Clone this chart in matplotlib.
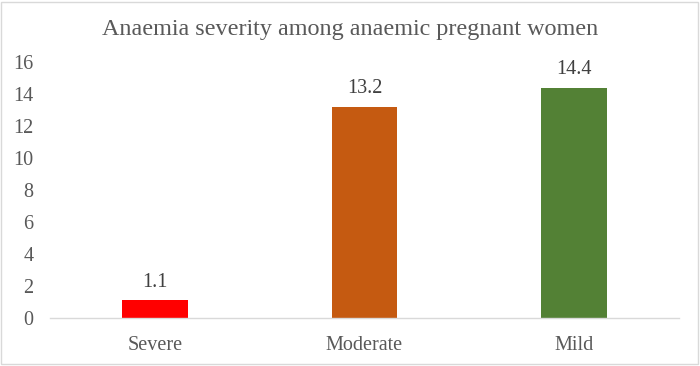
import matplotlib
matplotlib.use("Agg")
import matplotlib.pyplot as plt
from matplotlib.patches import Rectangle

categories = ["Severe", "Moderate", "Mild"]
values = [1.1, 13.2, 14.4]
colors = ["#FF0000", "#C55A11", "#538135"]
yticks = [0, 2, 4, 6, 8, 10, 12, 14, 16]
title = "Anaemia severity among anaemic pregnant women"

plt.rcParams['font.family'] = ['Liberation Serif', 'DejaVu Serif']

fig = plt.figure(figsize=(7, 3.66), dpi=100)
ax = fig.add_axes([50/700, 48/366, 629/700, 256/366])
x = list(range(len(categories)))
bars = ax.bar(x, values, width=0.314, color=colors)
for xi, v in zip(x, values):
    ax.text(xi, v + 0.55, f"{v}", ha="center", va="bottom", fontsize=14.5, color="#404040")

ax.set_xlim(-0.5, 2.5)
ax.set_ylim(0, 16)
ax.set_yticks(yticks)
ax.set_xticks(x)
ax.set_xticklabels(categories)
ax.tick_params(axis="both", length=0, labelsize=14.5, colors="#595959")
ax.tick_params(axis="y", pad=12)
ax.tick_params(axis="x", pad=13)
for s in ["top", "right", "left"]:
    ax.spines[s].set_visible(False)
ax.spines["bottom"].set_color("#D9D9D9")
ax.spines["bottom"].set_linewidth(1.0)

fig.text(0.5, 1 - 30/366, title, ha="center", va="center", fontsize=17.4, color="#595959")
fig.patches.append(Rectangle((1/700, 2/366), 697/700, 362/366, transform=fig.transFigure,
                             fill=False, edgecolor="#D9D9D9", linewidth=1.0))
fig.savefig("out.png", dpi=100)
